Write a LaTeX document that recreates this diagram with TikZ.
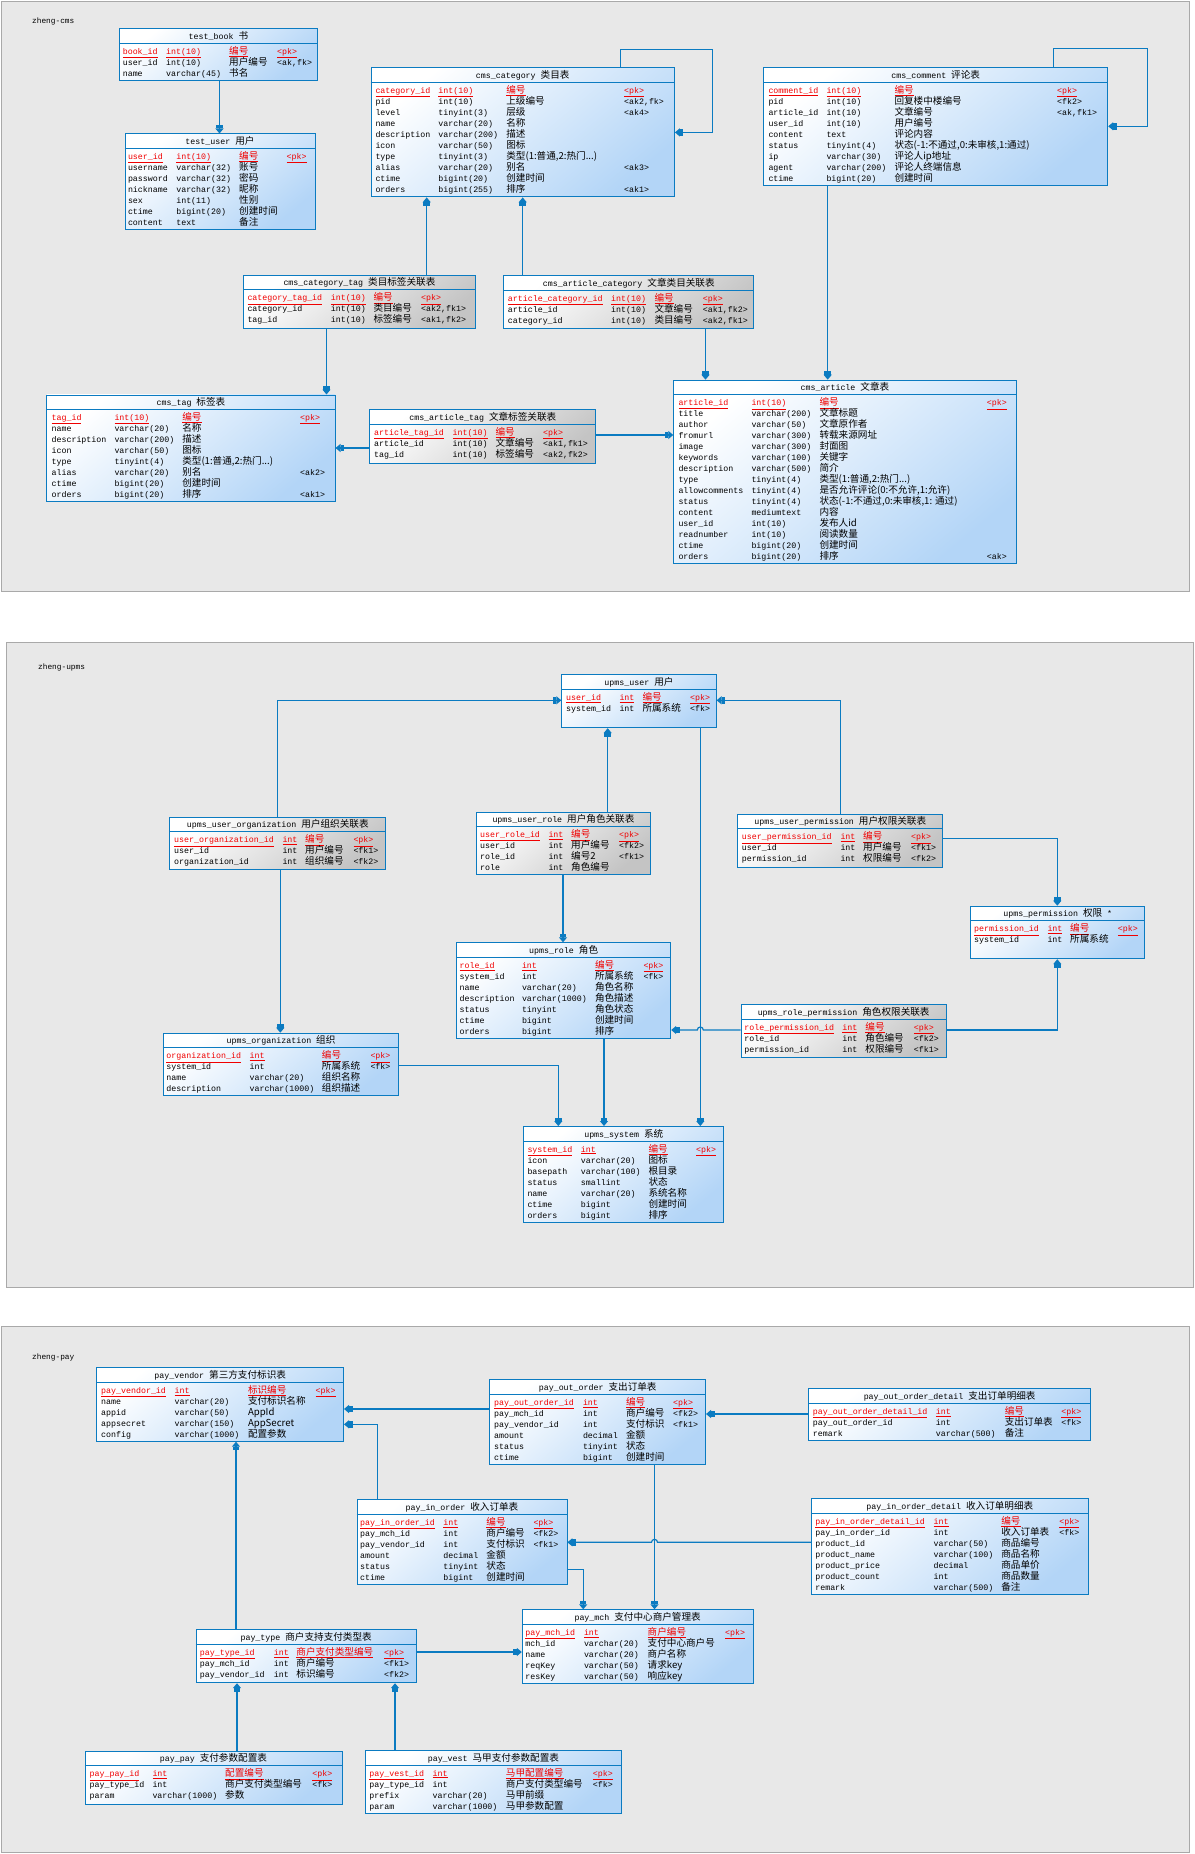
\documentclass[tikz,border=0pt]{standalone}
\usepackage{fontspec}
\usepackage{tikz}
\usetikzlibrary{arrows.meta,positioning,calc}
\newfontfamily\monofont{Liberation Mono}
\newfontfamily\zhfont{Noto Sans CJK SC}
\definecolor{tabline}{HTML}{0B7BC1}
\definecolor{tabblue}{HTML}{B3D5F7}
\definecolor{tabgray}{HTML}{C4C4C4}
\definecolor{keyred}{HTML}{F00000}
\definecolor{panelbg}{HTML}{E8E8E8}
\definecolor{panelrule}{HTML}{A9A9A9}
\newcommand\cellfont{\monofont\fontsize{8.3}{10}\selectfont}
\newcommand\zhcellfont{\zhfont\fontsize{9.6}{10}\selectfont}
\newcommand\zh[1]{{\zhcellfont #1}}
\newcommand\plaintext[1]{#1}
\newcommand\threedots{...}
\tikzset{
  panel/.style={fill=panelbg,draw=panelrule,line width=0.6pt},
  tabbox/.style={draw=tabline,line width=0.9pt,inner sep=0pt,
                 top color=white,bottom color=tabblue,shading angle=40},
  linkbox/.style={draw=tabline,line width=0.9pt,inner sep=0pt,
                  top color=white,bottom color=tabgray,shading angle=40},
  tabrule/.style={draw=tabline,line width=0.9pt},
  titlecell/.style={anchor=base,inner sep=0pt,font=\cellfont},
  cell/.style={anchor=base west,inner sep=0pt,font=\cellfont},
  zhcell/.style={cell,font=\zhcellfont},
  seclabel/.style={anchor=base west,inner sep=0pt,
                   font=\monofont\fontsize{7.8}{9}\selectfont},
  reflink/.style={draw=tabline,line width=1.2pt,
                  -{Square[length=3.5pt,width=6.5pt]Triangle[length=5pt,width=8pt]}}
}
% table frame: name, style, x, y, width, height, title
\newcommand\erdtable[7]{%
  \node[#2,minimum width=#5pt,minimum height=#6pt,anchor=north west] (#1) at (#3,#4) {};
  \draw[tabrule] ([yshift=-15pt]#1.north west) -- ([yshift=-15pt]#1.north east);
  \node[titlecell] (#1-title) at ([yshift=-11pt]#1.north) {#7};
}
% table rows: name, column offsets (4), rows
\newcommand\erdrows[6]{%
  \foreach \fa/\fb/\fc/\fd [count=\rowno] in {#6}{%
    \ifnum\rowno=1 \def\rowcol{keyred}\let\rowfmt\underline
    \else \def\rowcol{black}\let\rowfmt\plaintext\fi
    \pgfmathsetmacro\rowy{-26-11*(\rowno-1)}%
    \node[cell,text=\rowcol] (#1-\rowno-n) at ([xshift=#2pt,yshift=\rowy pt]#1.north west) {\rowfmt{\fa}};
    \node[cell,text=\rowcol] (#1-\rowno-t) at ([xshift=#3pt,yshift=\rowy pt]#1.north west) {\rowfmt{\fb}};
    \node[zhcell,text=\rowcol] (#1-\rowno-c) at ([xshift=#4pt,yshift=\rowy pt]#1.north west) {\rowfmt{\fc}};
    \node[cell,text=\rowcol] (#1-\rowno-k) at ([xshift=#5pt,yshift=\rowy pt]#1.north west) {\rowfmt{\fd}};
  }%
}

\begin{document}
\begin{tikzpicture}[x=1pt,y=-1pt]
  \useasboundingbox (0,0) rectangle (1194,1854);
  \fill[white] (0,0) rectangle (1194,1854);

  \draw[panel] (1,1) rectangle (1189,591);
  \draw[panel] (6,642) rectangle (1193,1287);
  \draw[panel] (1,1326) rectangle (1189,1852);
  \node[seclabel] (cmslabel) at (32,24) {zheng-cms};
  \node[seclabel] (upmslabel) at (38,669) {zheng-upms};
  \node[seclabel] (paylabel) at (32,1359) {zheng-pay};

  % zheng-cms
  \erdtable{testbook}{tabbox}{119}{28.5}{198}{52}{test\_book \zh{书}}
  \erdrows{testbook}{3.6}{47}{110}{158}{
    book\_id/int(10)/编号/{<pk>},
    user\_id/int(10)/用户编号/{<ak,fk>},
    name/varchar(45)/书名/{}}
  \erdtable{testuser}{tabbox}{124.5}{133.5}{190}{95}{test\_user \zh{用户}}
  \erdrows{testuser}{3.3}{51.6}{114.5}{162}{
    user\_id/int(10)/编号/{<pk>},
    username/varchar(32)/账号/{},
    password/varchar(32)/密码/{},
    nickname/varchar(32)/昵称/{},
    sex/int(11)/性别/{},
    ctime/bigint(20)/创建时间/{},
    content/text/备注/{}}
  \erdtable{category}{tabbox}{370.5}{67.5}{303.5}{129}{cms\_category \zh{类目表}}
  \erdrows{category}{4.8}{67.7}{135.6}{253.4}{
    category\_id/int(10)/编号/{<pk>},
    pid/int(10)/上级编号/{<ak2,fk>},
    level/tinyint(3)/层级/{<ak4>},
    name/varchar(20)/名称/{},
    description/varchar(200)/描述/{},
    icon/varchar(50)/图标/{},
    type/tinyint(3)/{类型(1:普通,2:热门\threedots)}/{},
    alias/varchar(20)/别名/{<ak3>},
    ctime/bigint(20)/创建时间/{},
    orders/bigint(255)/排序/{<ak1>}}
  \erdtable{comment}{tabbox}{763.3}{67.3}{344}{118}{cms\_comment \zh{评论表}}
  \erdrows{comment}{5}{63}{131}{293.7}{
    comment\_id/int(10)/编号/{<pk>},
    pid/int(10)/回复楼中楼编号/{<fk2>},
    article\_id/int(10)/文章编号/{<ak,fk1>},
    user\_id/int(10)/用户编号/{},
    content/text/评论内容/{},
    status/tinyint(4)/{状态(-1:不通过,0:未审核,1:通过)}/{},
    ip/varchar(30)/评论人ip地址/{},
    agent/varchar(200)/评论人终端信息/{},
    ctime/bigint(20)/创建时间/{}}
  \erdtable{cattag}{linkbox}{243.3}{274.7}{231.4}{53}{cms\_category\_tag \zh{类目标签关联表}}
  \erdrows{cattag}{4}{87.4}{130}{177.7}{
    category\_tag\_id/int(10)/编号/{<pk>},
    category\_id/int(10)/类目编号/{<ak2,fk1>},
    tag\_id/int(10)/标签编号/{<ak1,fk2>}}
  \erdtable{artcat}{linkbox}{503.3}{275}{250}{53}{cms\_article\_category \zh{文章类目关联表}}
  \erdrows{artcat}{4.4}{107.7}{151}{199.4}{
    article\_category\_id/int(10)/编号/{<pk>},
    article\_id/int(10)/文章编号/{<ak1,fk2>},
    category\_id/int(10)/类目编号/{<ak2,fk1>}}
  \erdtable{tag}{tabbox}{46.4}{394.5}{288.2}{106.5}{cms\_tag \zh{标签表}}
  \erdrows{tag}{5}{67.9}{135.7}{253.6}{
    tag\_id/int(10)/编号/{<pk>},
    name/varchar(20)/名称/{},
    description/varchar(200)/描述/{},
    icon/varchar(50)/图标/{},
    type/tinyint(4)/{类型(1:普通,2:热门\threedots)}/{},
    alias/varchar(20)/别名/{<ak2>},
    ctime/bigint(20)/创建时间/{},
    orders/bigint(20)/排序/{<ak1>}}
  \erdtable{arttag}{linkbox}{369.3}{409}{226}{53.5}{cms\_article\_tag \zh{文章标签关联表}}
  \erdrows{arttag}{4.6}{83.2}{126.1}{173.6}{
    article\_tag\_id/int(10)/编号/{<pk>},
    article\_id/int(10)/文章编号/{<ak1,fk1>},
    tag\_id/int(10)/标签编号/{<ak2,fk2>}}
  \erdtable{article}{tabbox}{673.3}{379.7}{342.4}{183.6}{cms\_article \zh{文章表}}
  \erdrows{article}{5}{78}{146}{313.3}{
    article\_id/int(10)/编号/{<pk>},
    title/varchar(200)/文章标题/{},
    author/varchar(50)/文章原作者/{},
    fromurl/varchar(300)/转载来源网址/{},
    image/varchar(300)/封面图/{},
    keywords/varchar(100)/关键字/{},
    description/varchar(500)/简介/{},
    type/tinyint(4)/{类型(1:普通,2:热门\threedots)}/{},
    allowcomments/tinyint(4)/{是否允许评论(0:不允许,1:允许)}/{},
    status/tinyint(4)/{状态(-1:不通过,0:未审核,1: 通过)}/{},
    content/mediumtext/内容/{},
    user\_id/int(10)/发布人id/{},
    readnumber/int(10)/阅读数量/{},
    ctime/bigint(20)/创建时间/{},
    orders/bigint(20)/排序/{<ak>}}

  \draw[reflink] ([xshift=100.5pt]testbook.south west) coordinate (a) -- (a |- testuser.north);
  \draw[reflink] ([xshift=250pt]category.north west) |- ++(92.3,-17.9)
    |- ([yshift=-64.9pt]category.north east);
  \draw[reflink] ([xshift=183.4pt]cattag.north west) coordinate (a) -- (a |- category.south);
  \draw[reflink] ([xshift=19.4pt]artcat.north west) coordinate (a) -- (a |- category.south);
  \draw[reflink] ([xshift=83.2pt]cattag.south west) coordinate (a) -- (a |- tag.north);
  \draw[reflink] ([xshift=202.2pt]artcat.south west) coordinate (a) -- (a |- article.north);
  \draw[reflink] ([yshift=-39pt]arttag.north west) coordinate (a) -- (a -| tag.east);
  \draw[reflink] ([yshift=-26pt]arttag.north east) coordinate (a) -- (a -| article.west);
  \draw[reflink] ([xshift=64.4pt]comment.south west) coordinate (a) -- (a |- article.north);
  \draw[reflink] ([xshift=290pt]comment.north west) |- ++(94,-19)
    |- ([yshift=-59pt]comment.north east);

  % zheng-upms
  \erdtable{uuser}{tabbox}{561.3}{674.3}{154.4}{53}{upms\_user \zh{用户}}
  \erdrows{uuser}{4.7}{58}{81}{128.7}{
    user\_id/int/编号/{<pk>},
    system\_id/int/所属系统/{<fk>}}
  \erdtable{uuorg}{linkbox}{169.3}{816.7}{216}{52.3}{upms\_user\_organization \zh{用户组织关联表}}
  \erdrows{uuorg}{4.7}{113}{135.7}{184}{
    user\_organization\_id/int/编号/{<pk>},
    user\_id/int/用户编号/{<fk1>},
    organization\_id/int/组织编号/{<fk2>}}
  \erdtable{uurole}{linkbox}{475.7}{811.7}{174.6}{62.6}{upms\_user\_role \zh{用户角色关联表}}
  \erdrows{uurole}{4.3}{72.6}{95.3}{143.3}{
    user\_role\_id/int/编号/{<pk>},
    user\_id/int/用户编号/{<fk2>},
    role\_id/int/编号2/{<fk1>},
    role/int/角色编号/{}}
  \erdtable{uuperm}{linkbox}{737.3}{813.7}{205}{53.6}{upms\_user\_permission \zh{用户权限关联表}}
  \erdrows{uuperm}{4.4}{103}{125.7}{173.7}{
    user\_permission\_id/int/编号/{<pk>},
    user\_id/int/用户编号/{<fk1>},
    permission\_id/int/权限编号/{<fk2>}}
  \erdtable{uperm}{tabbox}{970.3}{905.7}{174}{52.6}{upms\_permission \zh{权限} *}
  \erdrows{uperm}{3.7}{77}{99.7}{147.4}{
    permission\_id/int/编号/{<pk>},
    system\_id/int/所属系统/{}}
  \erdtable{urole}{tabbox}{456}{942.3}{214.3}{96}{upms\_role \zh{角色}}
  \erdrows{urole}{3.5}{65.8}{138.8}{187.3}{
    role\_id/int/编号/{<pk>},
    system\_id/int/所属系统/{<fk>},
    name/varchar(20)/角色名称/{},
    description/varchar(1000)/角色描述/{},
    status/tinyint/角色状态/{},
    ctime/bigint/创建时间/{},
    orders/bigint/排序/{}}
  \erdtable{urperm}{linkbox}{740.7}{1004.3}{205}{53}{upms\_role\_permission \zh{角色权限关联表}}
  \erdrows{urperm}{3.5}{101.5}{124.5}{173}{
    role\_permission\_id/int/编号/{<pk>},
    role\_id/int/角色编号/{<fk2>},
    permission\_id/int/权限编号/{<fk1>}}
  \erdtable{uorg}{tabbox}{162.7}{1032.7}{235.7}{62.5}{upms\_organization \zh{组织}}
  \erdrows{uorg}{3.5}{86.7}{159}{207.6}{
    organization\_id/int/编号/{<pk>},
    system\_id/int/所属系统/{<fk>},
    name/varchar(20)/组织名称/{},
    description/varchar(1000)/组织描述/{}}
  \erdtable{usys}{tabbox}{523.3}{1126}{200}{95.5}{upms\_system \zh{系统}}
  \erdrows{usys}{4}{57.4}{125}{172.7}{
    system\_id/int/编号/{<pk>},
    icon/varchar(20)/图标/{},
    basepath/varchar(100)/根目录/{},
    status/smallint/状态/{},
    name/varchar(20)/系统名称/{},
    ctime/bigint/创建时间/{},
    orders/bigint/排序/{}}

  \draw[reflink] ([xshift=108.4pt]uuorg.north west) |- ([yshift=-26pt]uuser.north west);
  \draw[reflink] ([xshift=111pt]uuorg.south west) coordinate (a) -- (a |- uorg.north);
  \draw[reflink] ([xshift=132pt]uurole.north west) coordinate (a) -- (a |- uuser.south);
  \draw[reflink] ([xshift=87.3pt]uurole.south west) coordinate (a) -- (a |- urole.north);
  \draw[reflink] ([xshift=103pt]uuperm.north west) |- ([yshift=-26pt]uuser.north east);
  \draw[reflink] ([yshift=-24.6pt]uuperm.north east) -| ([xshift=87pt]uperm.north west);
  \draw[reflink] ([yshift=-25.7pt]urperm.north east) -| ([xshift=87pt]uperm.south west);
  \draw[reflink] ([yshift=-25.7pt]urperm.north west) coordinate (a) -- ++(-37.4,0)
    arc[start angle=0,end angle=180,radius=3pt] -- (a -| urole.east);
  \draw[reflink] ([xshift=148pt]urole.south west) coordinate (a) -- (a |- usys.north);
  \draw[reflink] ([xshift=139pt]uuser.south west) coordinate (a) -- (a |- usys.north);
  \draw[reflink] ([yshift=-33pt]uorg.north east) -| ([xshift=35pt]usys.north west);

  % zheng-pay
  \erdtable{pvendor}{tabbox}{96.4}{1367.3}{246.7}{73.5}{pay\_vendor \zh{第三方支付标识表}}
  \erdrows{pvendor}{4.6}{78}{151.4}{219}{
    pay\_vendor\_id/int/标识编号/{<pk>},
    name/varchar(20)/支付标识名称/{},
    appid/varchar(50)/AppId/{},
    appsecret/varchar(150)/AppSecret/{},
    config/varchar(1000)/配置参数/{}}
  \erdtable{poutorder}{tabbox}{489.4}{1379.3}{215.7}{85}{pay\_out\_order \zh{支出订单表}}
  \erdrows{poutorder}{4.5}{93.4}{136.5}{183.5}{
    pay\_out\_order\_id/int/编号/{<pk>},
    pay\_mch\_id/int/商户编号/{<fk2>},
    pay\_vendor\_id/int/支付标识/{<fk1>},
    amount/decimal/金额/{},
    status/tinyint/状态/{},
    ctime/bigint/创建时间/{}}
  \erdtable{poutdetail}{tabbox}{808.2}{1388.3}{282}{52}{pay\_out\_order\_detail \zh{支出订单明细表}}
  \erdrows{poutdetail}{4.5}{127.5}{196.4}{253}{
    pay\_out\_order\_detail\_id/int/编号/{<pk>},
    pay\_out\_order\_id/int/支出订单表/{<fk>},
    remark/varchar(500)/备注/{}}
  \erdtable{pinorder}{tabbox}{356.5}{1499.3}{210}{85}{pay\_in\_order \zh{收入订单表}}
  \erdrows{pinorder}{3.5}{86.7}{129.7}{176.8}{
    pay\_in\_order\_id/int/编号/{<pk>},
    pay\_mch\_id/int/商户编号/{<fk2>},
    pay\_vendor\_id/int/支付标识/{<fk1>},
    amount/decimal/金额/{},
    status/tinyint/状态/{},
    ctime/bigint/创建时间/{}}
  \erdtable{pindetail}{tabbox}{811.1}{1498.3}{276.6}{96}{pay\_in\_order\_detail \zh{收入订单明细表}}
  \erdrows{pindetail}{4}{122.3}{190}{248}{
    pay\_in\_order\_detail\_id/int/编号/{<pk>},
    pay\_in\_order\_id/int/收入订单表/{<fk>},
    product\_id/varchar(50)/商品编号/{},
    product\_name/varchar(100)/商品名称/{},
    product\_price/decimal/商品单价/{},
    product\_count/int/商品数量/{},
    remark/varchar(500)/备注/{}}
  \erdtable{pmch}{tabbox}{521.8}{1609.3}{230.8}{74}{pay\_mch \zh{支付中心商户管理表}}
  \erdrows{pmch}{3.4}{62}{125.7}{203.2}{
    pay\_mch\_id/int/商户编号/{<pk>},
    mch\_id/varchar(20)/支付中心商户号/{},
    name/varchar(20)/商户名称/{},
    reqKey/varchar(50)/请求key/{},
    resKey/varchar(50)/响应key/{}}
  \erdtable{ptype}{tabbox}{195.7}{1629.3}{220}{53}{pay\_type \zh{商户支持支付类型表}}
  \erdrows{ptype}{4}{78}{100.5}{188.3}{
    pay\_type\_id/int/商户支付类型编号/{<pk>},
    pay\_mch\_id/int/商户编号/{<fk1>},
    pay\_vendor\_id/int/标识编号/{<fk2>}}
  \erdtable{ppay}{tabbox}{84.5}{1750.7}{257}{53.5}{pay\_pay \zh{支付参数配置表}}
  \erdrows{ppay}{4.9}{67.8}{140.5}{227.7}{
    pay\_pay\_id/int/配置编号/{<pk>},
    pay\_type\_id/int/商户支付类型编号/{<fk>},
    param/varchar(1000)/参数/{}}
  \erdtable{pvest}{tabbox}{364.7}{1750}{256.5}{63.3}{pay\_vest \zh{马甲支付参数配置表}}
  \erdrows{pvest}{4.5}{67.8}{141}{228}{
    pay\_vest\_id/int/马甲配置编号/{<pk>},
    pay\_type\_id/int/商户支付类型编号/{<fk>},
    prefix/varchar(20)/马甲前缀/{},
    param/varchar(1000)/马甲参数配置/{}}

  \draw[reflink] ([yshift=-29.7pt]poutorder.north west) coordinate (a) -- (a -| pvendor.east);
  \draw[reflink] ([xshift=21.2pt]pinorder.north west) |- ([yshift=-57pt]pvendor.north east);
  \draw[reflink] ([xshift=40.3pt]ptype.north west) coordinate (a) -- (a |- pvendor.south);
  \draw[reflink] ([yshift=-25.7pt]poutdetail.north west) coordinate (a) -- (a -| poutorder.east);
  \draw[reflink] ([yshift=-44pt]pindetail.north west) coordinate (a) -- ++(-153.6,0)
    arc[start angle=0,end angle=180,radius=3pt] -- (a -| pinorder.east);
  \draw[reflink] ([yshift=-70.4pt]pinorder.north east) -| ([xshift=61.4pt]pmch.north west);
  \draw[reflink] ([xshift=165.1pt]poutorder.south west) coordinate (a) -- (a |- pmch.north);
  \draw[reflink] ([yshift=-22.7pt]ptype.north east) coordinate (a) -- (a -| pmch.west);
  \draw[reflink] ([xshift=152.5pt]ppay.north west) coordinate (a) -- (a |- ptype.south);
  \draw[reflink] ([xshift=30.3pt]pvest.north west) coordinate (a) -- (a |- ptype.south);
\end{tikzpicture}
\end{document}
